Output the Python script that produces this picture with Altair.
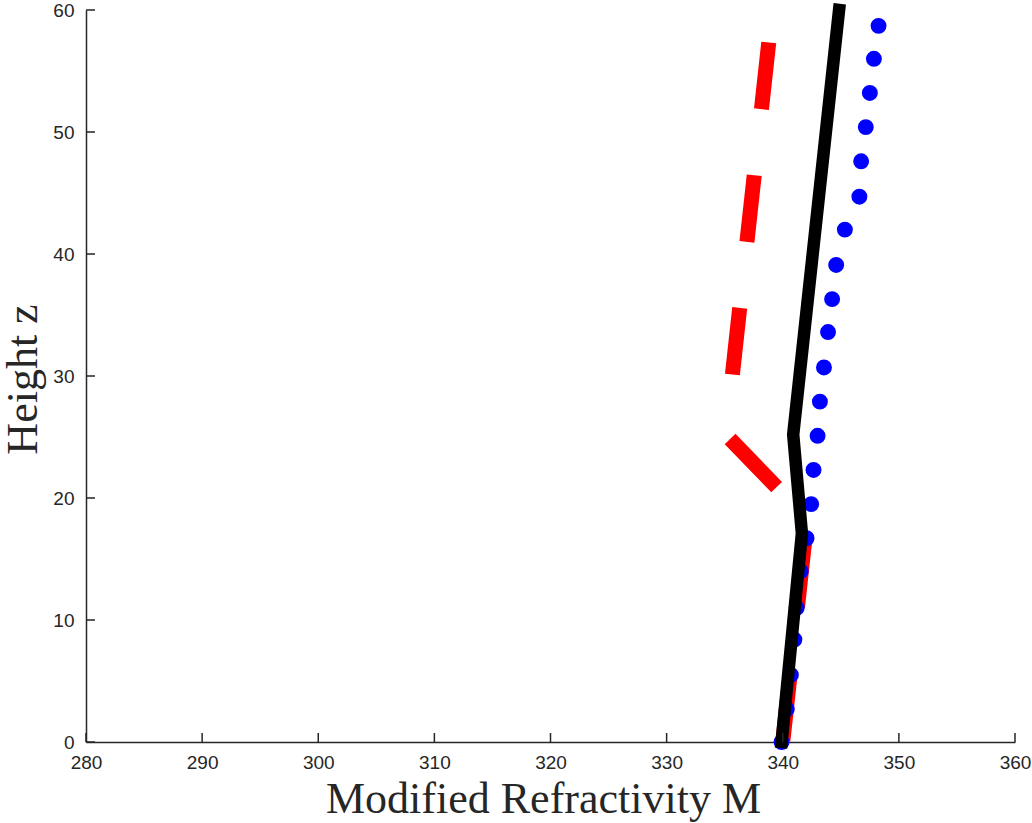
import altair as alt
import pandas as pd

# ---- data ----
black_M = [339.9, 341.65, 340.9, 344.85]
black_z = [0.0, 17.1, 25.2, 60.0]

red_M = [340.0, 342.1, 335.1, 339.1]
red_z = [0.0, 18.3, 25.2, 60.0]

blue_M = [339.9, 340.35, 340.7, 341.0, 341.2, 341.55, 342.05, 342.45, 342.65, 343.0, 343.2,
          343.55, 343.9, 344.25, 344.6, 345.35, 346.6, 346.75, 347.15, 347.5, 347.85, 348.25]
blue_z = [0.0, 2.7, 5.5, 8.4, 11.0, 14.0, 16.7, 19.5, 22.3, 25.1, 27.9,
          30.7, 33.6, 36.3, 39.1, 42.0, 44.7, 47.6, 50.4, 53.2, 56.0, 58.7]

x_ticks = [280, 290, 300, 310, 320, 330, 340, 350, 360]
y_ticks = [0, 10, 20, 30, 40, 50, 60]

x_title = "Modified Refractivity M"
y_title = "Height z"

# ---- styling ----
W, H = 929, 732
AX = "#262626"

xs = alt.Scale(domain=[280, 360], nice=False, zero=False)
ys = alt.Scale(domain=[0, 60], nice=False, zero=False)

xaxis = alt.Axis(values=x_ticks, ticks=False, tickSize=0, grid=False,
                 domainColor=AX, domainWidth=1.5,
                 labelFont="Liberation Sans", labelFontSize=19, labelColor=AX,
                 labelPadding=11, labelFlush=False, labelOverlap=False,
                 title=x_title, titleFont="Liberation Serif", titleFontSize=44,
                 titleFontWeight="normal", titleColor=AX,
                 titleX=457, titleY=70, titleBaseline="alphabetic", titleAlign="center")
yaxis = alt.Axis(values=y_ticks, ticks=False, tickSize=0, grid=False,
                 domainColor=AX, domainWidth=1.5,
                 labelFont="Liberation Sans", labelFontSize=19, labelColor=AX,
                 labelPadding=12, labelFlush=False, labelOverlap=False,
                 title=y_title, titleFont="Liberation Serif", titleFontSize=44,
                 titleFontWeight="normal", titleColor=AX, titleAngle=270,
                 titleX=-50, titleY=369, titleBaseline="alphabetic", titleAlign="center")

df_black = pd.DataFrame({"M": black_M, "z": black_z, "i": range(len(black_M))})
df_red = pd.DataFrame({"M": red_M, "z": red_z, "i": range(len(red_M))})
df_blue = pd.DataFrame({"M": blue_M, "z": blue_z})
df_xt = pd.DataFrame({"t": x_ticks})
df_yt = pd.DataFrame({"t": y_ticks})

red = alt.Chart(df_red).mark_line(
    color="#FF0000", strokeWidth=15, strokeDash=[67, 66.5], strokeDashOffset=132,
    strokeCap="butt", strokeJoin="miter"
).encode(
    x=alt.X("M:Q", scale=xs, axis=xaxis),
    y=alt.Y("z:Q", scale=ys, axis=yaxis),
    order="i:Q",
)

blue = alt.Chart(df_blue).mark_circle(
    color="#0000FF", size=254, opacity=1
).encode(
    x=alt.X("M:Q", scale=xs, axis=xaxis),
    y=alt.Y("z:Q", scale=ys, axis=yaxis),
)

black = alt.Chart(df_black).mark_line(
    color="#000000", strokeWidth=12.5, strokeCap="square", strokeJoin="miter"
).encode(
    x=alt.X("M:Q", scale=xs, axis=xaxis),
    y=alt.Y("z:Q", scale=ys, axis=yaxis),
    order="i:Q",
)

xtick_marks = alt.Chart(df_xt).mark_rule(color=AX, strokeWidth=1.5).encode(
    x=alt.X("t:Q", scale=xs, axis=xaxis),
    y=alt.value(H), y2=alt.value(H - 9),
)
ytick_marks = alt.Chart(df_yt).mark_rule(color=AX, strokeWidth=1.5).encode(
    y=alt.Y("t:Q", scale=ys, axis=yaxis),
    x=alt.value(0), x2=alt.value(9),
)

chart = alt.layer(red, blue, black, xtick_marks, ytick_marks).properties(
    width=W, height=H,
    autosize=alt.AutoSizeParams(type="none"),
    padding={"left": 86, "top": 10, "right": 17, "bottom": 81},
    background="white",
).configure_view(stroke=None)

chart.save("out.html", embed_options={"renderer": "svg", "actions": False})
